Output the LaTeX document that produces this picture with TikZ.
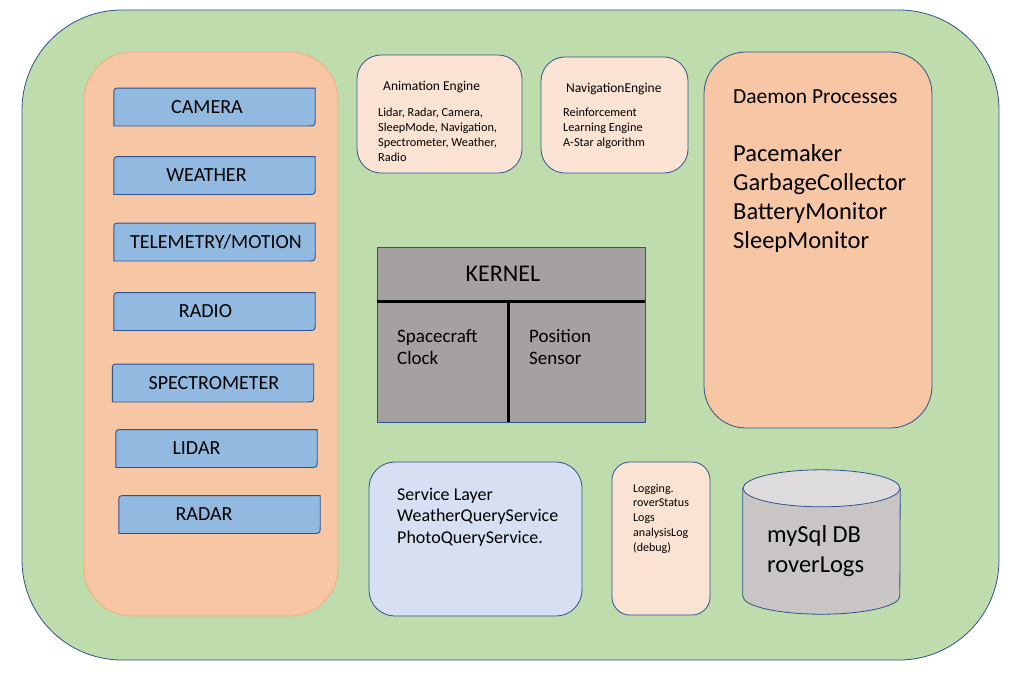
\documentclass[tikz,border=0pt]{standalone}
\usepackage{fontspec}
\setmainfont{Carlito}
\usetikzlibrary{positioning}

\definecolor{roverGreen}{HTML}{BFDCAD}
\definecolor{panelOrange}{HTML}{F7C6A4}
\definecolor{panelEdge}{HTML}{F2AE80}
\definecolor{peach}{HTML}{FBE3D4}
\definecolor{sensorBlue}{HTML}{92B9E0}
\definecolor{edgeBlue}{HTML}{2F528F}
\definecolor{kernelGrey}{HTML}{A6A1A1}
\definecolor{serviceBlue}{HTML}{D7E0F2}
\definecolor{dbBody}{HTML}{C9C5C5}
\definecolor{dbTop}{HTML}{DDDBDB}

\pgfdeclarelayer{panel}
\pgfsetlayers{panel,main}

\tikzset{
  box/.style={draw=edgeBlue, line width=0.8pt, inner sep=0pt},
  sensor/.style={inner sep=0pt, minimum width=201pt, minimum height=37.5pt},
  sensortext/.style={font=\fontsize{20}{24}\selectfont},
  sensorbox/.style={fill=sensorBlue, draw=edgeBlue, line width=0.9pt},
  note/.style={anchor=base west, align=left, inner sep=0pt},
  divider/.style={line width=3pt},
  dbside/.style={fill=dbBody, draw=edgeBlue, line width=0.8pt},
  dbcap/.style={fill=dbTop, draw=edgeBlue, line width=0.8pt},
}

\begin{document}
\begin{tikzpicture}[x=1pt,y=-1pt]
\useasboundingbox (0,0) rectangle (1022,673);

\begin{pgfonlayer}{panel}
\node[box, fill=roverGreen, rounded corners=100pt, minimum width=977pt, minimum height=650pt] (rover) at (510.5,335) {};
\node[draw=panelEdge, fill=panelOrange, line width=0.8pt, rounded corners=48pt, inner sep=0pt, minimum width=254pt, minimum height=564pt] (sensors) at (211,334) {};
\end{pgfonlayer}

% instruments
\node[sensor, label={[sensortext, xshift=-7.5pt]center:CAMERA}] (camera) at (214.5,107) {};
\node[sensor, label={[sensortext, xshift=-8pt]center:WEATHER}] (weather) at (214.5,175.5) {};
\node[sensor, label={[sensortext, xshift=1.5pt]center:TELEMETRY/MOTION}] (telemetry) at (214.5,242) {};
\node[sensor, label={[sensortext, xshift=-9pt]center:RADIO}] (radio) at (214.5,311.5) {};
\node[sensor, label={[sensortext, xshift=1pt]center:SPECTROMETER}] (spectrometer) at (213,383) {};
\node[sensor, label={[sensortext, xshift=-20pt]center:LIDAR}] (lidar) at (216.5,448.5) {};
\node[sensor, label={[sensortext, xshift=-15.5pt]center:RADAR}] (radar) at (219.5,514.5) {};

\begin{pgfonlayer}{panel}
\foreach \s in {camera,weather,telemetry,radio,spectrometer,lidar,radar}
  \filldraw[sensorbox] (\s.south west) -- ([yshift=-7pt]\s.north west) .. controls (\s.north west) .. ([xshift=7pt]\s.north west) -- (\s.north east) -- ([yshift=7pt]\s.south east) .. controls (\s.south east) .. ([xshift=-7pt]\s.south east) -- cycle;
\end{pgfonlayer}

% engines
\node[box, fill=peach, rounded corners=24pt, minimum width=165pt, minimum height=118pt] (anim) at (439.5,114) {};
\node[note, font=\fontsize{13.5}{16}\selectfont] (anim-title) at (383,90) {Animation Engine};
\node[note, font=\fontsize{12.3}{15}\selectfont] (anim-list) at (378,161.7) {Lidar, Radar, Camera,\\SleepMode, Navigation,\\Spectrometer, Weather,\\Radio};

\node[box, fill=peach, rounded corners=24pt, minimum width=147pt, minimum height=116pt] (nav) at (614.5,115) {};
\node[note, font=\fontsize{13.5}{16}\selectfont] (nav-title) at (566,92.5) {NavigationEngine};
\node[note, font=\fontsize{12.3}{15}\selectfont] (nav-list) at (563,146.7) {Reinforcement\\Learning Engine\\A-Star algorithm};

% daemons
\node[box, fill=panelOrange, rounded corners=42pt, minimum width=228pt, minimum height=376pt] (daemon) at (818,240) {};
\node[note, font=\fontsize{21.5}{25}\selectfont] (daemon-title) at (733,103) {Daemon Processes};
\node[note, font=\fontsize{24.5}{29}\selectfont] (daemon-list) at (733,248) {Pacemaker\\GarbageCollector\\BatteryMonitor\\SleepMonitor};

% kernel
\node[box, fill=kernelGrey, minimum width=268pt, minimum height=175pt] (kernel) at (511,334.5) {};
\node[inner sep=0pt, font=\fontsize{24}{28}\selectfont] (kernel-title) at (503,274) {KERNEL};
\coordinate[below=55pt of kernel.north west] (kernel-w);
\coordinate (kernel-m) at (508,302);
\draw[divider] (kernel-w) -- (kernel-w -| kernel.east);
\draw[divider] (kernel-m) -- (kernel-m |- kernel.south);
\node[note, font=\fontsize{19}{22.5}\selectfont] (clock) at (397,364.5) {Spacecraft\\Clock};
\node[note, font=\fontsize{19}{22.5}\selectfont] (position) at (529,364.5) {Position\\Sensor};

% services and logs
\node[box, fill=serviceBlue, rounded corners=26pt, minimum width=213pt, minimum height=154pt] (service) at (475.5,539) {};
\node[note, font=\fontsize{18}{21.5}\selectfont] (service-list) at (397,543) {Service Layer\\WeatherQueryService\\PhotoQueryService.};

\node[box, fill=peach, rounded corners=18pt, minimum width=98pt, minimum height=153pt] (logging) at (661,538.5) {};
\node[note, font=\fontsize{12}{14.8}\selectfont] (logging-list) at (633,551.2) {Logging.\\roverStatus\\Logs\\analysisLog\\(debug)};

% database
\node[inner sep=0pt, minimum width=157pt, minimum height=144pt] (db) at (821.5,542) {};
\filldraw[dbside] ([yshift=-18.5pt]db.north west) -- ([yshift=18pt]db.south west) arc[start angle=180, end angle=360, x radius=78.5pt, y radius=18pt] -- ([yshift=-18.5pt]db.north east) -- cycle;
\filldraw[dbcap] ([yshift=-18.5pt]db.north) ellipse[x radius=78.5pt, y radius=18.5pt];
\node[note, font=\fontsize{24.5}{30}\selectfont] (db-label) at (767,572) {mySql DB\\roverLogs};

\end{tikzpicture}
\end{document}
